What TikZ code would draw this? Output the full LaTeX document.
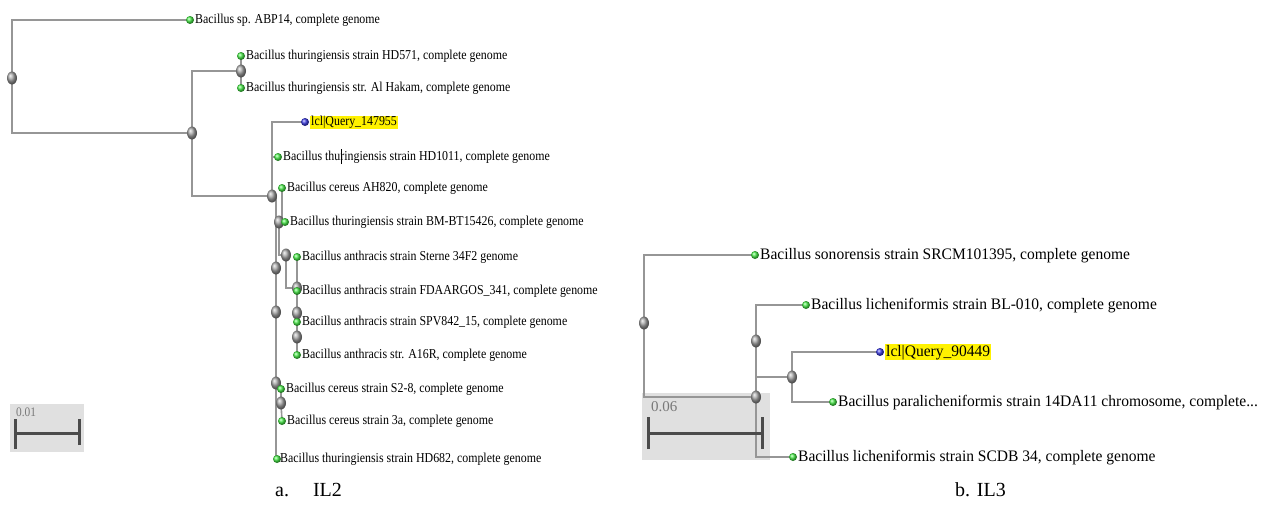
\documentclass[tikz,border=0pt]{standalone}
\usepackage{fontspec}
\setmainfont{Liberation Serif}
\newfontfamily\condfont[FakeStretch=0.875]{Liberation Serif}
\newfontfamily\rfont[FakeStretch=0.97]{Liberation Serif}
\usetikzlibrary{shapes.geometric,backgrounds}

\definecolor{branch}{RGB}{150,150,150}
\definecolor{leafg}{RGB}{70,235,70}
\definecolor{qblue}{RGB}{60,60,230}
\definecolor{barbox}{RGB}{224,224,224}
\definecolor{bardark}{RGB}{75,75,75}
\definecolor{bartext}{RGB}{120,120,120}

\tikzset{
  inode/.style={shape=ellipse, minimum width=10pt, minimum height=13pt, inner sep=0pt, ball color=gray!70},
  leafdot/.style={circle, minimum size=8pt, inner sep=0pt, ball color=leafg},
  querydot/.style={circle, minimum size=8pt, inner sep=0pt, ball color=qblue},
  ltxt/.style={anchor=west, inner sep=0pt, font=\condfont\fontsize{13.6}{15}\selectfont, text height=9pt, text depth=2pt},
  rtxt/.style={anchor=west, inner sep=0pt, font=\rfont\fontsize{16}{18}\selectfont, text height=11pt, text depth=3pt},
  hl/.style={fill=yellow, inner sep=1pt},
  ledge/.style={draw=branch, line width=1.6pt},
  redge/.style={draw=branch, line width=2pt},
  sbox/.style={fill=barbox, draw=none},
  sbar/.style={draw=bardark, line width=3pt},
  stxt/.style={anchor=west, inner sep=0pt, text=bartext},
  capt/.style={anchor=west, inner sep=0pt, font=\fontsize{20}{24}\selectfont}
}

\begin{document}
\begin{tikzpicture}[x=1pt,y=-1pt]
\useasboundingbox (0,0) rectangle (1265,509);

% ---------------- left tree (a) ----------------
\node[inode] (G1) at (12,78) {};
\node[inode] (G2) at (192,133) {};
\node[inode] (G3) at (241,71) {};
\node[inode] (G4) at (272,196) {};
\node[inode] (G5) at (279,222) {};
\node[inode] (G6) at (286,255) {};
\node[inode] (G7) at (297,288) {};
\node[inode] (G8) at (297,313) {};
\node[inode] (G9) at (297,337) {};
\node[inode] (G10) at (276,268) {};
\node[inode] (G11) at (276,312) {};
\node[inode] (G12) at (276,383) {};
\node[inode] (G13) at (281,403) {};

\node[leafdot] (A1) at (190,20) {};
\node[leafdot] (A2) at (241,56) {};
\node[leafdot] (A3) at (241,88) {};
\node[querydot] (Q1) at (305,122) {};
\node[leafdot] (A4) at (278,157) {};
\node[leafdot] (A5) at (282,188) {};
\node[leafdot] (A6) at (285,222) {};
\node[leafdot] (A7) at (297,257) {};
\node[leafdot] (A8) at (297,291) {};
\node[leafdot] (A9) at (297,322) {};
\node[leafdot] (A10) at (297,355) {};
\node[leafdot] (A11) at (281,389) {};
\node[leafdot] (A12) at (282,421) {};
\node[leafdot] (A13) at (277,459) {};

\node[ltxt] (tA1) at ([xshift=5pt]A1.center) {Bacillus sp. ABP14, complete genome};
\node[ltxt] (tA2) at ([xshift=5pt]A2.center) {Bacillus thuringiensis strain HD571, complete genome};
\node[ltxt] (tA3) at ([xshift=5pt]A3.center) {Bacillus thuringiensis str. Al Hakam, complete genome};
\node[ltxt,hl] (tQ1) at ([xshift=5pt]Q1.center) {lcl|Query\_147955};
\node[ltxt] (tA4) at ([xshift=5pt]A4.center) {Bacillus thuringiensis strain HD1011, complete genome};
\node[ltxt] (tA5) at ([xshift=5pt]A5.center) {Bacillus cereus AH820, complete genome};
\node[ltxt] (tA6) at ([xshift=5pt]A6.center) {Bacillus thuringiensis strain BM-BT15426, complete genome};
\node[ltxt] (tA7) at ([xshift=5pt]A7.center) {Bacillus anthracis strain Sterne 34F2 genome};
\node[ltxt] (tA8) at ([xshift=5pt]A8.center) {Bacillus anthracis strain FDAARGOS\_341, complete genome};
\node[ltxt] (tA9) at ([xshift=5pt]A9.center) {Bacillus anthracis strain SPV842\_15, complete genome};
\node[ltxt] (tA10) at ([xshift=5pt]A10.center) {Bacillus anthracis str. A16R, complete genome};
\node[ltxt] (tA11) at ([xshift=5pt]A11.center) {Bacillus cereus strain S2-8, complete genome};
\node[ltxt] (tA12) at ([xshift=5pt]A12.center) {Bacillus cereus strain 3a, complete genome};
\node[ltxt] (tA13) at ([xshift=3pt]A13.center) {Bacillus thuringiensis strain HD682, complete genome};
% text cursor mark inside "thu|ringiensis"
\coordinate (cur1) at ([xshift=58pt,yshift=-7pt]tA4.west);
\coordinate (cur2) at ([xshift=58pt,yshift=8pt]tA4.west);
\draw[black, line width=0.6pt] (cur1) -- (cur2);

% ---------------- right tree (b) ----------------
\node[inode] (R1) at (644,323) {};
\node[inode] (R2) at (756,397) {};
\node[inode] (R3) at (756,341) {};
\node[inode] (R4) at (792,377) {};
\node[leafdot] (B1) at (755,255) {};
\node[leafdot] (B2) at (806,305) {};
\node[querydot] (Q2) at (880,352) {};
\node[leafdot] (B3) at (833,402) {};
\node[leafdot] (B4) at (793,457) {};

\node[rtxt] (tB1) at ([xshift=5pt]B1.center) {Bacillus sonorensis strain SRCM101395, complete genome};
\node[rtxt] (tB2) at ([xshift=5pt]B2.center) {Bacillus licheniformis strain BL-010, complete genome};
\node[rtxt,hl] (tQ2) at ([xshift=5pt]Q2.center) {lcl|Query\_90449};
\node[rtxt] (tB3) at ([xshift=5pt]B3.center) {Bacillus paralicheniformis strain 14DA11 chromosome, complete...};
\node[rtxt] (tB4) at ([xshift=5pt]B4.center) {Bacillus licheniformis strain SCDB 34, complete genome};

% ---------------- scale bars ----------------
\begin{scope}[on background layer]
  \fill[sbox] (10,404) rectangle (84,452);
  \fill[sbox] (642,393) rectangle (770,460);
\end{scope}
\node[stxt, font=\condfont\fontsize{13}{15}\selectfont] (s1) at (16,412) {0.01};
\coordinate (s1a) at (15,433);
\coordinate (s1b) at (79,433);
\draw[sbar] (s1a) -- (s1b);
\draw[sbar] ([yshift=-16pt]s1a) -- ([yshift=14pt]s1a);
\draw[sbar] ([yshift=-12pt]s1b) -- ([yshift=14pt]s1b);

\node[stxt, font=\fontsize{15}{17}\selectfont] (s2) at (651,407) {0.06};
\coordinate (s2a) at (648,433);
\coordinate (s2b) at (762,433);
\draw[sbar] (s2a) -- (s2b);
\draw[sbar] ([yshift=-16pt]s2a) -- ([yshift=16pt]s2a);
\draw[sbar] ([yshift=-16pt]s2b) -- ([yshift=16pt]s2b);

% ---------------- branches ----------------
\begin{scope}[on background layer]
  \draw[ledge] (G1.center) |- (A1.center);
  \draw[ledge] (G1.center) |- (G2.center);
  \draw[ledge] (G2.center) |- (G3.center);
  \draw[ledge] (G2.center) |- (G4.center);
  \draw[ledge] (G3.center) -- (A2.center);
  \draw[ledge] (G3.center) -- (A3.center);
  \draw[ledge] (G4.center) |- (Q1.center);
  \draw[ledge] (G4.center) |- (A4.center);
  \draw[ledge] (G4.center) -| (G10.center);
  \draw[ledge] (A5.center) |- (G5.center);
  \draw[ledge] (G5.center) -- (A6.center);
  \draw[ledge] (G5.center) |- (G6.center);
  \draw[ledge] (G6.center) |- (G7.center);
  \draw[ledge] (A7.center) -- (G7.center);
  \draw[ledge] (G7.center) -- (A8.center);
  \draw[ledge] (G7.center) -- (G8.center);
  \draw[ledge] (G8.center) -- (A9.center);
  \draw[ledge] (G8.center) -- (G9.center);
  \draw[ledge] (G9.center) -- (A10.center);
  \draw[ledge] (G10.center) -- (G11.center);
  \draw[ledge] (G11.center) -- (G12.center);
  \draw[ledge] (G12.center) |- (A13.center);
  \draw[ledge] (G12.center) |- (A11.center);
  \draw[ledge] (A11.center) -- (G13.center);
  \draw[ledge] (G13.center) -- (A12.center);

  \draw[redge] (R1.center) |- (B1.center);
  \draw[redge] (R1.center) |- (R2.center);
  \draw[redge] (R2.center) -- (R3.center);
  \draw[redge] (R3.center) |- (B2.center);
  \draw[redge] (R3.center) |- (R4.center);
  \draw[redge] (R4.center) |- (Q2.center);
  \draw[redge] (R4.center) |- (B3.center);
  \draw[redge] (R2.center) |- (B4.center);
\end{scope}

% ---------------- captions ----------------
\node[capt] (capa) at (275,490) {a.\hspace{24pt}IL2};
\node[capt] (capb) at (955,490) {b. IL3};
\end{tikzpicture}
\end{document}
